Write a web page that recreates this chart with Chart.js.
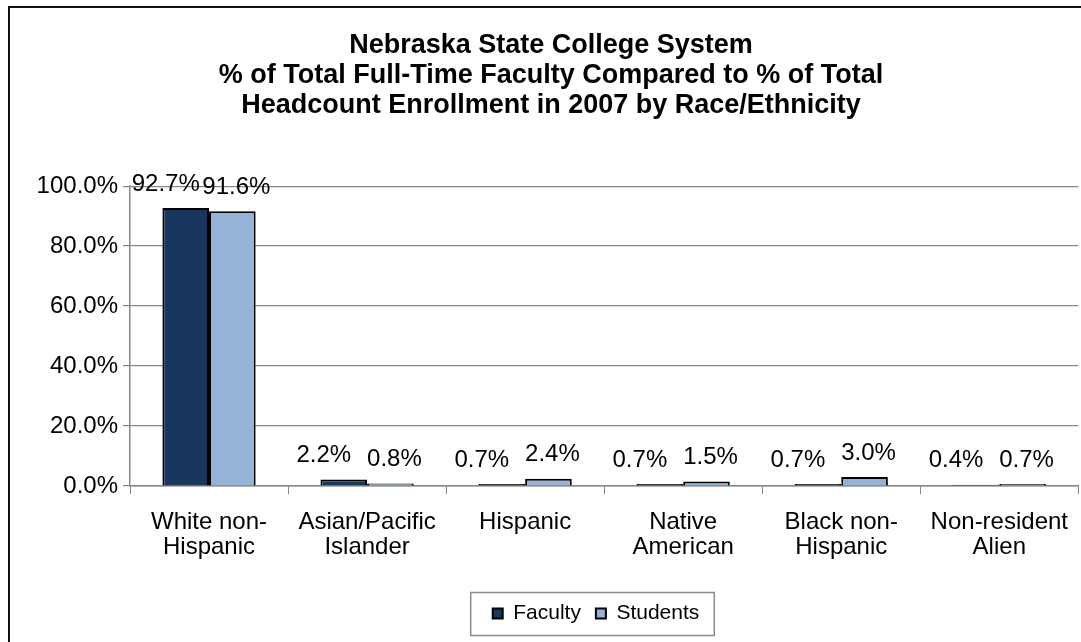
<!DOCTYPE html>
<html>
<head>
<meta charset="utf-8">
<script src="https://cdn.jsdelivr.net/npm/chart.js@4.4.0/dist/chart.umd.min.js"></script>
<style>
  html, body { margin:0; padding:0; background:#fff; overflow:hidden; }
  #frame { position:absolute; left:8px; top:6px; width:1200px; height:800px;
           border-left:2px solid #111; border-top:2px solid #111; }
  #wrap { position:absolute; left:0; top:0; width:1084px; height:642px; }
</style>
</head>
<body>
<div id="frame"></div>
<div id="wrap"><canvas id="chart"></canvas></div>
<script>
/* ==========================
   data
   ========================== */
const categories = [
  ["White non-", "Hispanic"],
  ["Asian/Pacific", "Islander"],
  "Hispanic",
  ["Native", "American"],
  ["Black non-", "Hispanic"],
  ["Non-resident", "Alien"]
];
const faculty  = [92.7, 2.2, 0.7, 0.7, 0.7, 0.4];
const students = [91.6, 0.8, 2.4, 1.5, 3.0, 0.7];
const yTicks   = [0, 20, 40, 60, 80, 100];
const titleLines = [
  "Nebraska State College System",
  "% of Total Full-Time Faculty Compared to % of Total",
  "Headcount Enrollment in 2007 by Race/Ethnicity"
];

Chart.defaults.font.family = "'Liberation Sans', Arial, sans-serif";
Chart.defaults.color = "#000";

/* ==========================
   labels above bars + legend box
   ========================== */
const valueLabels = {
  id: "valueLabels",
  afterDatasetsDraw(chart) {
    const ctx = chart.ctx;
    ctx.save();
    ctx.font = "24px 'Liberation Sans', Arial, sans-serif";
    ctx.fillStyle = "#000";
    ctx.textAlign = "center";
    ctx.textBaseline = "bottom";
    chart.data.datasets.forEach((ds, i) => {
      const shift = i === 0 ? -20 : 4; // keep neighbouring labels apart
      chart.getDatasetMeta(i).data.forEach((bar, j) => {
        ctx.fillText(ds.data[j].toFixed(1) + "%", bar.x + shift, bar.y - 12);
      });
    });
    ctx.restore();
  }
};

const legendBox = {
  id: "legendBox",
  afterLayout(chart) {
    // legend sits right of centre in the original
    chart.legend.left += 45;
    chart.legend.right += 45;
  },
  afterDraw(chart) {
    const boxes = chart.legend.legendHitBoxes;
    if (!boxes || !boxes.length) return;
    const first = boxes[0], last = boxes[boxes.length - 1];
    const cy = first.top + first.height / 2;
    const ctx = chart.ctx;
    ctx.save();
    ctx.strokeStyle = "#8c8c8c";
    ctx.lineWidth = 1.5;
    ctx.strokeRect(first.left - 22, cy - 21, last.left + last.width - first.left + 37, 43);
    ctx.restore();
  }
};

new Chart(document.getElementById("chart"), {
  type: "bar",
  data: {
    labels: categories,
    datasets: [
      { label: "Faculty", data: faculty, backgroundColor: "#17375E", borderColor: "#000",
        borderWidth: 2, categoryPercentage: 0.59, barPercentage: 1.0 },
      { label: "Students", data: students, backgroundColor: "#95B3D7", borderColor: "#000",
        borderWidth: 2, categoryPercentage: 0.59, barPercentage: 1.0 }
    ]
  },
  options: {
    responsive: true,
    maintainAspectRatio: false,
    animation: false,
    layout: { padding: { left: 18, right: 0, top: 0, bottom: 8 } },
    plugins: {
      title: {
        display: true, text: titleLines, color: "#000",
        font: { size: 27, weight: "bold", lineHeight: 1.1 },
        padding: { top: 31, bottom: 66 }
      },
      legend: {
        position: "bottom",
        labels: { boxWidth: 10, boxHeight: 10, padding: 15, color: "#000",
                  font: { size: 21 } }
      },
      tooltip: { enabled: false }
    },
    scales: {
      x: {
        grid: { offset: true, drawOnChartArea: false, drawTicks: true, tickLength: 8, color: "#868686" },
        border: { color: "#868686", width: 1.5 },
        ticks: { font: { size: 24, lineHeight: 1.05 }, padding: 16, maxRotation: 0, autoSkip: false },
        afterFit(scale) { scale.height = 102; }
      },
      y: {
        min: 0, max: 100,
        afterBuildTicks(scale) { scale.ticks = yTicks.map(v => ({ value: v })); },
        grid: { color: "#868686", lineWidth: 1.2, tickLength: 7 },
        border: { color: "#868686", width: 1.5 },
        ticks: { font: { size: 24 }, padding: 5, callback: v => v.toFixed(1) + "%" },
        afterFit(scale) { scale.width = 112; }
      }
    }
  },
  plugins: [valueLabels, legendBox]
});
</script>
</body>
</html>
